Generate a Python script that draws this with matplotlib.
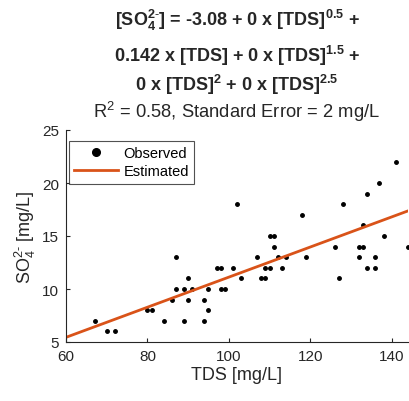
import numpy as np
import matplotlib.pyplot as plt

plt.rcParams['font.family'] = ['Liberation Sans', 'DejaVu Sans']
plt.rcParams['mathtext.fontset'] = 'custom'
plt.rcParams['mathtext.rm'] = 'Liberation Sans'
plt.rcParams['mathtext.it'] = 'Liberation Sans:italic'
plt.rcParams['mathtext.bf'] = 'Liberation Sans:bold'

# observed data
tds = [67, 70, 72, 80, 81, 84, 86, 87, 87, 89, 89, 90, 90, 91, 94, 94, 95, 95,
       97, 98, 98, 99, 101, 102, 103, 107, 108, 109, 109, 110, 110, 111, 111,
       112, 113, 114, 118, 119, 126, 127, 128, 132, 132, 133, 133, 134, 134,
       136, 136, 137, 138, 141, 144]
so4 = [7, 6, 6, 8, 8, 7, 9, 13, 10, 10, 7, 9, 11, 10, 9, 7, 10, 8,
       12, 12, 10, 10, 12, 18, 11, 13, 11, 11, 12, 12, 15, 15, 14,
       13, 12, 13, 17, 13, 14, 11, 18, 14, 13, 14, 16, 19, 12,
       13, 12, 20, 15, 22, 14]

# fitted model coefficients
b0 = -3.08
b1 = 0.142
x_fit = np.array([60, 144])
y_fit = b0 + b1 * x_fit

dark = '#262626'
fig = plt.figure(figsize=(4.1, 4.02), dpi=100)
ax = fig.add_axes([66/410, 59/402, 342/410, 212/402])

ax.plot(tds, so4, 'o', color='k', markersize=2.5, label='Observed')
ax.plot(x_fit, y_fit, color='#D95319', linewidth=2, label='Estimated')

ax.set_xlim(60, 144)
ax.set_ylim(5, 25)
ax.set_xticks([60, 80, 100, 120, 140])
ax.set_yticks([5, 10, 15, 20, 25])
ax.tick_params(direction='in', labelsize=11, colors=dark, length=3, pad=5)
for s in ['top', 'right']:
    ax.spines[s].set_visible(False)
for s in ['left', 'bottom']:
    ax.spines[s].set_color(dark)
ax.set_xlabel('TDS [mg/L]', fontsize=13, color=dark, labelpad=2)
ax.set_ylabel(r'SO$_4^{2\text{-}}$ [mg/L]', fontsize=13, color=dark, labelpad=3)

leg = ax.legend(loc='upper left', bbox_to_anchor=(3/342, 1 - 11/212),
                borderaxespad=0, fontsize=10.5, frameon=True, fancybox=False,
                edgecolor=dark, borderpad=0.35, handlelength=3.0,
                handletextpad=0.4, labelspacing=0.3, markerscale=2.2)
leg.get_frame().set_linewidth(0.8)

ax.set_title('R$^2$ = 0.58, Standard Error = 2 mg/L', fontsize=13.2,
             color=dark, pad=9)

cx = (66 + 408) / 2 / 410
lines = [r'[SO$_\mathbf{4}^{\mathbf{2}\text{-}}$] = -3.08 + 0 x [TDS]$^\mathbf{0.5}$ +',
         r'0.142 x [TDS] + 0 x [TDS]$^\mathbf{1.5}$ +',
         r'0 x [TDS]$^\mathbf{2}$ + 0 x [TDS]$^\mathbf{2.5}$']
ys = [20, 56, 85]
for t, yy in zip(lines, ys):
    fig.text(cx, 1 - yy / 402, t, ha='center', va='center', fontsize=13,
             fontweight='bold', color=dark)

fig.savefig('out.png', dpi=100)
